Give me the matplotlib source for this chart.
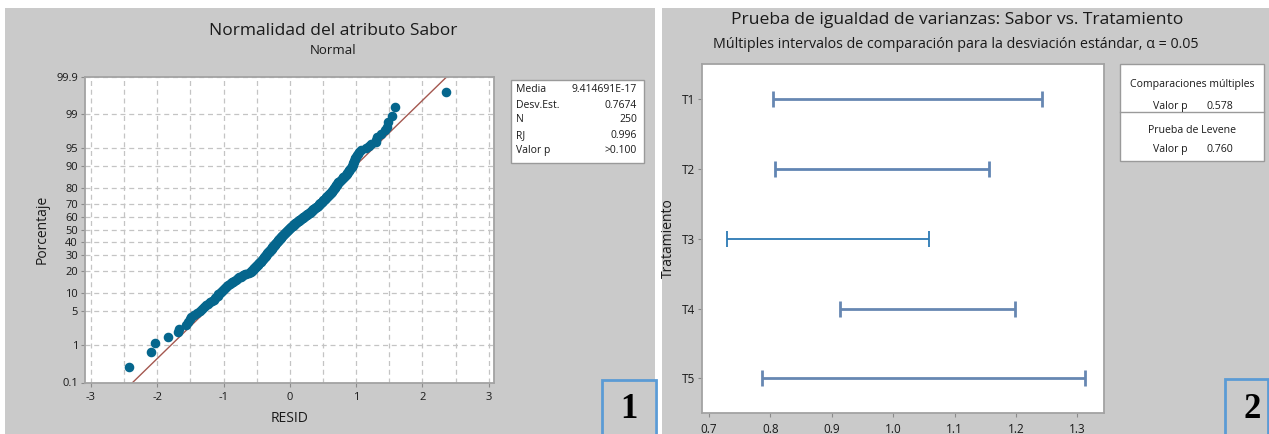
import matplotlib
matplotlib.use("Agg")
import matplotlib.pyplot as plt
import numpy as np
from statistics import NormalDist
from matplotlib.patches import Rectangle
from matplotlib.lines import Line2D

W, H = 1269, 434

# ---------------- data: panel 1 (sorted residuals) -----------
resid = [
    -2.43, -2.10, -2.03, -1.84, -1.68, -1.67, -1.56, -1.53, -1.50, -1.49,
    -1.45, -1.40, -1.36, -1.32, -1.29, -1.26, -1.23, -1.20, -1.17, -1.15,
    -1.13, -1.11, -1.09, -1.08, -1.06, -1.045, -1.03, -1.01, -0.995, -0.98,
    -0.965, -0.95, -0.93, -0.91, -0.893, -0.874, -0.855, -0.836, -0.818, -0.80,
    -0.78, -0.76, -0.74, -0.72, -0.70, -0.675, -0.66, -0.62, -0.59, -0.58,
    -0.57, -0.56, -0.552, -0.545, -0.535, -0.525, -0.515, -0.505, -0.495, -0.483,
    -0.474, -0.466, -0.458, -0.45, -0.442, -0.435, -0.427, -0.42, -0.412, -0.404,
    -0.396, -0.389, -0.381, -0.374, -0.366, -0.36, -0.352, -0.345, -0.338, -0.331,
    -0.325, -0.317, -0.31, -0.303, -0.297, -0.29, -0.283, -0.276, -0.27, -0.263,
    -0.256, -0.25, -0.243, -0.237, -0.23, -0.223, -0.217, -0.21, -0.204, -0.197,
    -0.191, -0.185, -0.178, -0.172, -0.165, -0.159, -0.153, -0.146, -0.14, -0.133,
    -0.127, -0.121, -0.114, -0.108, -0.101, -0.094, -0.086, -0.078, -0.07, -0.062,
    -0.054, -0.046, -0.038, -0.03, -0.022, -0.018, -0.01, -0.001, 0.007, 0.016,
    0.025, 0.033, 0.042, 0.05, 0.059, 0.067, 0.076, 0.085, 0.094, 0.103,
    0.113, 0.123, 0.133, 0.144, 0.154, 0.164, 0.174, 0.184, 0.195, 0.205,
    0.215, 0.225, 0.235, 0.246, 0.256, 0.266, 0.277, 0.288, 0.298, 0.308,
    0.318, 0.328, 0.337, 0.347, 0.357, 0.367, 0.377, 0.387, 0.397, 0.408,
    0.418, 0.428, 0.436, 0.444, 0.453, 0.461, 0.47, 0.478, 0.487, 0.496,
    0.505, 0.514, 0.523, 0.531, 0.54, 0.549, 0.558, 0.568, 0.577, 0.587,
    0.597, 0.606, 0.616, 0.626, 0.633, 0.64, 0.647, 0.654, 0.661, 0.668,
    0.675, 0.682, 0.69, 0.697, 0.705, 0.712, 0.72, 0.728, 0.742, 0.755,
    0.768, 0.782, 0.795, 0.807, 0.82, 0.832, 0.844, 0.856, 0.869, 0.882,
    0.89, 0.90, 0.912, 0.923, 0.934, 0.945, 0.953, 0.96, 0.966, 0.973,
    0.98, 0.987, 0.995, 1.01, 1.025, 1.045, 1.08, 1.15, 1.19, 1.22,
    1.30, 1.305, 1.31, 1.38, 1.43, 1.46, 1.48, 1.546, 1.58, 2.35,
]
fit_mean = 9.414691e-17
fit_sd = 0.7674

pct_ticks = [0.1, 1, 5, 10, 20, 30, 40, 50, 60, 70, 80, 90, 95, 99, 99.9]
pct_labels = ["0.1", "1", "5", "10", "20", "30", "40", "50", "60", "70",
              "80", "90", "95", "99", "99.9"]
x_ticks = [-3, -2, -1, 0, 1, 2, 3]
x_grid = [-2.5, -1.5, -0.5, 0.5, 1.5, 2.5]

stats_labels = ["Media", "Desv.Est.", "N", "RJ", "Valor p"]
stats_values = ["9.414691E-17", "0.7674", "250", "0.996", ">0.100"]

# ---------------- data: panel 2 -----------------------------------------------
treatments = ["T1", "T2", "T3", "T4", "T5"]
ci_low = [0.804, 0.807, 0.730, 0.914, 0.787]
ci_high = [1.242, 1.156, 1.059, 1.199, 1.313]
sd_ticks = [0.7, 0.8, 0.9, 1.0, 1.1, 1.2, 1.3]
sd_labels = ["0.7", "0.8", "0.9", "1.0", "1.1", "1.2", "1.3"]
p_multiple = "0.578"
p_levene = "0.760"

# ---------------- style --------------------------------------------------------
plt.rcParams["font.family"] = ["Open Sans", "DejaVu Sans"]
PANEL = "#cacaca"
TXT = "#1a1a1a"
SPINE = "#a3a3a3"


def fx(px):
    return px / W


def fy(py):
    return 1 - py / H


fig = plt.figure(figsize=(W / 100, H / 100), dpi=100)
fig.patch.set_facecolor("white")

# panel backgrounds (behind the axes)
fig.patches.append(Rectangle((fx(5), 0), fx(655) - fx(5), fy(8), transform=fig.transFigure,
                             facecolor=PANEL, edgecolor="none", zorder=-10))
fig.patches.append(Rectangle((fx(662), 0), 1 - fx(662), fy(8), transform=fig.transFigure,
                             facecolor=PANEL, edgecolor="none", zorder=-10))

# ================= panel 1: normal probability plot ===========================
nd = NormalDist()


def fwd(p):
    p = np.asarray(p, dtype=float)
    out = np.empty(p.shape).ravel()
    for k, v in enumerate(p.ravel()):
        if not np.isfinite(v):
            out[k] = np.nan
        else:
            out[k] = nd.inv_cdf(min(max(v / 100.0, 1e-12), 1 - 1e-12))
    return out.reshape(p.shape)


def inv(z):
    z = np.asarray(z, dtype=float)
    out = np.empty(z.shape).ravel()
    for k, v in enumerate(z.ravel()):
        out[k] = nd.cdf(v) * 100.0 if np.isfinite(v) else np.nan
    return out.reshape(z.shape)


ax1 = fig.add_axes([fx(85), fy(382.5), fx(494) - fx(85), fy(76.5) - fy(382.5)])
ax1.set_facecolor("white")
ax1.set_yscale("function", functions=(fwd, inv))
ax1.set_xlim(-3.09, 3.08)
ax1.set_ylim(0.1, 99.9)

n = len(resid)
ranks = np.arange(1, n + 1)
pct = (ranks - 0.3) / (n + 0.4) * 100.0

ax1.set_xticks(x_ticks)
ax1.set_xticklabels([str(t) for t in x_ticks])
ax1.set_xticks(x_grid, minor=True)
ax1.set_yticks(pct_ticks)
ax1.set_yticklabels(pct_labels)
ax1.grid(True, which="both", axis="x", color="#c4c4c4", lw=0.9, ls=(0, (4, 3)))
ax1.grid(True, which="major", axis="y", color="#c4c4c4", lw=0.9, ls=(0, (4, 3)))
ax1.set_axisbelow(True)

line_p = np.array([0.02, 0.1, 1, 5, 20, 50, 80, 95, 99, 99.9, 99.98])
ax1.plot(fit_mean + fit_sd * fwd(line_p), line_p, color="#a4574f", lw=1.0, zorder=2)
ax1.plot(resid, pct, ls="none", marker="o", ms=5.9, mfc="#05668d", mec="#05668d", zorder=3)

ax1.tick_params(axis="both", which="major", length=3, width=0.8, color="#8a8a8a",
                labelsize=8, labelcolor=TXT, pad=2)
ax1.tick_params(axis="both", which="minor", length=0)
ax1.tick_params(axis="x", pad=4)
for s in ax1.spines.values():
    s.set_color(SPINE)
    s.set_linewidth(1.3)

fig.text(fx(333), fy(31), "Normalidad del atributo Sabor", ha="center", va="center",
         fontsize=12.5, color=TXT)
fig.text(fx(333), fy(51), "Normal", ha="center", va="center", fontsize=9.5, color=TXT)
fig.text(fx(42), fy(229), "Porcentaje", ha="center", va="center", rotation=90,
         fontsize=10, color=TXT)
fig.text(fx(290), fy(419), "RESID", ha="center", va="center", fontsize=10, color=TXT)

# stats box
fig.patches.append(Rectangle((fx(511), fy(162.7)), fx(644) - fx(511), fy(80) - fy(162.7),
                             transform=fig.transFigure, facecolor="white",
                             edgecolor="#9a9a9a", lw=1.0, zorder=1))
rows_y = [90, 105, 120, 135.5, 150.5]
for lab, val, yy in zip(stats_labels, stats_values, rows_y):
    fig.text(fx(516), fy(yy), lab, ha="left", va="center", fontsize=7.5, color=TXT, zorder=2)
    fig.text(fx(637), fy(yy), val, ha="right", va="center", fontsize=7.5, color=TXT, zorder=2)

# ================= panel 2: intervals ==========================================
ax2 = fig.add_axes([fx(702.3), fy(413.3), fx(1104.3) - fx(702.3), fy(64.3) - fy(413.3)])
ax2.set_facecolor("white")
ax2.set_xlim(0.689, 1.3438)
ax2.set_ylim(5.5, 0.5)
ypos = np.arange(1, len(treatments) + 1)
bar_colors = ["#6787b2", "#6185b3", "#2c7ab4", "#6787b2", "#6787b2"]
bar_lw = [2.0, 2.0, 1.3, 2.0, 2.0]
for k in range(len(treatments)):
    lo, hi = ci_low[k], ci_high[k]
    ax2.errorbar([(lo + hi) / 2], [ypos[k]], xerr=[[(hi - lo) / 2], [(hi - lo) / 2]],
                 fmt="none", ecolor=bar_colors[k], elinewidth=bar_lw[k],
                 capsize=6, capthick=bar_lw[k])
ax2.set_yticks(ypos)
ax2.set_yticklabels(treatments)
ax2.set_xticks(sd_ticks)
ax2.set_xticklabels(sd_labels)
ax2.tick_params(axis="both", length=3, width=0.8, color="#8a8a8a", labelsize=8.5,
                labelcolor=TXT, pad=2)
ax2.tick_params(axis="x", pad=4)
for s in ax2.spines.values():
    s.set_color(SPINE)
    s.set_linewidth(1.3)

fig.text(fx(957), fy(20), "Prueba de igualdad de varianzas: Sabor vs. Tratamiento",
         ha="center", va="center", fontsize=12.6, color=TXT)
fig.text(fx(956), fy(44),
         "Múltiples intervalos de comparación para la desviación estándar, α = 0.05",
         ha="center", va="center", fontsize=10.3, color=TXT)
fig.text(fx(668), fy(238), "Tratamiento", ha="center", va="center", rotation=90,
         fontsize=10, color=TXT)

# legend boxes
fig.patches.append(Rectangle((fx(1120), fy(161)), fx(1264) - fx(1120), fy(64) - fy(161),
                             transform=fig.transFigure, facecolor="white",
                             edgecolor="#9a9a9a", lw=1.0, zorder=1))
fig.add_artist(Line2D([fx(1120), fx(1264)], [fy(112.3), fy(112.3)], color="#9a9a9a",
                      lw=1.0, transform=fig.transFigure, zorder=2))
fig.text(fx(1192), fy(85), "Comparaciones múltiples", ha="center", va="center",
         fontsize=7.6, color=TXT, zorder=3)
fig.text(fx(1153), fy(106.5), "Valor p", ha="left", va="center", fontsize=7.6, color=TXT, zorder=3)
fig.text(fx(1233), fy(106.5), p_multiple, ha="right", va="center", fontsize=7.6, color=TXT, zorder=3)
fig.text(fx(1192), fy(130.5), "Prueba de Levene", ha="center", va="center",
         fontsize=7.6, color=TXT, zorder=3)
fig.text(fx(1153), fy(149.3), "Valor p", ha="left", va="center", fontsize=7.6, color=TXT, zorder=3)
fig.text(fx(1233), fy(149.3), p_levene, ha="right", va="center", fontsize=7.6, color=TXT, zorder=3)

# numbered boxes
fig.patches.append(Rectangle((fx(601.5), fy(437)), fx(656) - fx(601.5), fy(379.5) - fy(437),
                             transform=fig.transFigure, facecolor="none",
                             edgecolor="#5b9bd5", lw=2.0, zorder=4))
fig.text(fx(629), fy(409), "1", ha="center", va="center", fontsize=25, fontweight="bold",
         family=["Liberation Serif", "DejaVu Serif"], color="black")
fig.patches.append(Rectangle((fx(1225), fy(437)), fx(1268) - fx(1225), fy(378.5) - fy(437),
                             transform=fig.transFigure, facecolor="none",
                             edgecolor="#5b9bd5", lw=2.0, zorder=4))
fig.text(fx(1252), fy(409), "2", ha="center", va="center", fontsize=25, fontweight="bold",
         family=["Liberation Serif", "DejaVu Serif"], color="black")

fig.savefig("out.png", dpi=100, facecolor="white")
